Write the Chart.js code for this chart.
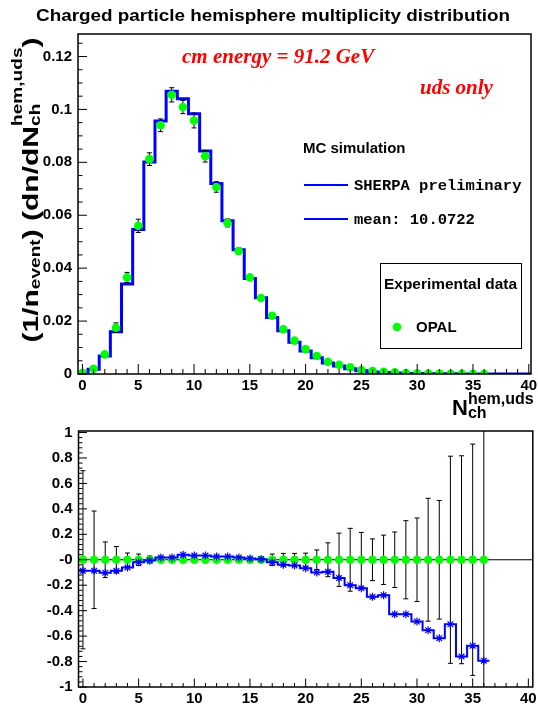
<!DOCTYPE html>
<html>
<head>
<meta charset="utf-8">
<script src="https://cdn.jsdelivr.net/npm/chart.js@4.4.0/dist/chart.umd.min.js"></script>
<style>
  html, body { margin: 0; padding: 0; background: #fff; }
  #wrap { position: relative; width: 538px; height: 709px; }
  #topChart { position: absolute; left: 0; top: 0; }
  #botChart { position: absolute; left: 0; top: 415px; }
</style>
</head>
<body>
<div id="wrap">
  <canvas id="topChart" width="538" height="425"></canvas>
  <canvas id="botChart" width="538" height="294"></canvas>
</div>
<script>
// bins of N_ch (data points 0..36, MC histogram 0..40)
var dataBins = [0,1,2,3,4,5,6,7,8,9,10,11,12,13,14,15,16,17,18,19,20,21,22,23,24,25,26,27,28,29,30,31,32,33,34,35,36];
var mcBins = [0,1,2,3,4,5,6,7,8,9,10,11,12,13,14,15,16,17,18,19,20,21,22,23,24,25,26,27,28,29,30,31,32,33,34,35,36,37,38,39,40];

// OPAL data (1/n dn/dN)
var opalValues = [0.0005,0.002,0.0074,0.0175,0.0365,0.056,0.0812,0.094,0.1055,0.1009,0.0958,0.0823,0.0707,0.0571,0.0465,0.0365,0.0287,0.022,0.0169,0.0126,0.0094,0.0068,0.0046,0.0035,0.0025,0.0015,0.0011,0.0008,0.0006,0.0004,0.0003,0.0002,0.00015,0.0001,0.00007,0.00005,0.00003];
var opalErrors = [0.00035,0.0008,0.001,0.0018,0.0019,0.0025,0.0024,0.0024,0.0027,0.0025,0.0028,0.0022,0.002,0.0015,0.0012,0.001,0.0008,0.001,0.00085,0.0006,0.00047,0.00052,0.0006,0.00073,0.0006,0.0003,0.00018,0.00016,0.00013,0.00012,0.0001,0.0001,0.00007,0.00008,0.00006,0.00005,0.00005];

// SHERPA preliminary histogram
var sherpaValues = [0.0003,0.0018,0.0068,0.016,0.034,0.0546,0.0801,0.0956,0.1069,0.104,0.0984,0.0843,0.072,0.0579,0.047,0.0361,0.0288,0.0214,0.0163,0.012,0.0087,0.0061,0.0042,0.003,0.002,0.0012,0.0008,0.0006,0.00034,0.00023,0.00015,0.00009,0.00006,0.00005,0.00002,0.00002,0.00001,0,0,0,0];

// lower panel: (MC - data) / data and relative data errors
var ratioValues = [-0.087,-0.087,-0.102,-0.087,-0.06,-0.02,-0.005,0.018,0.018,0.04,0.033,0.033,0.025,0.025,0.018,0.01,0.005,-0.02,-0.04,-0.045,-0.067,-0.1,-0.095,-0.144,-0.2,-0.223,-0.29,-0.278,-0.428,-0.428,-0.486,-0.554,-0.617,-0.507,-0.761,-0.675,-0.793];
var relErrors = [0.7,0.383,0.14,0.104,0.053,0.045,0.03,0.022,0.02,0.02,0.02,0.02,0.02,0.02,0.02,0.02,0.022,0.045,0.05,0.05,0.052,0.077,0.133,0.209,0.247,0.215,0.164,0.194,0.218,0.307,0.328,0.483,0.466,0.814,0.817,0.909,1.6];

// tick labels
var xTickValues = [0,5,10,15,20,25,30,35,40];
var xTickLabels = ["0","5","10","15","20","25","30","35","40"];
var yTopTickValues = [0,0.02,0.04,0.06,0.08,0.1,0.12];
var yTopTickLabels = ["0","0.02","0.04","0.06","0.08","0.1","0.12"];
var yBotTickValues = [-1,-0.8,-0.6,-0.4,-0.2,0,0.2,0.4,0.6,0.8,1];
var yBotTickLabels = ["-1","-0.8","-0.6","-0.4","-0.2","-0","0.2","0.4","0.6","0.8","1"];

var SANS = '"Liberation Sans", Arial, Helvetica, sans-serif';
var SERIF = '"Liberation Serif", "Times New Roman", serif';
Chart.defaults.font.family = SANS;
Chart.defaults.color = '#000';

var BLUE = '#0000ff';
var GREEN = '#00ff00';

function richWidth(ctx, parts) {
    var w = 0;
    parts.forEach(function (p) {
        ctx.font = p.f;
        if (p.stack) {
            w += Math.max.apply(null, p.stack.map(function (s) { return ctx.measureText(s.t).width; }));
        } else {
            w += ctx.measureText(p.t).width;
        }
    });
    return w;
}

function drawRich(ctx, parts, x, y) {
    var cx = x;
    parts.forEach(function (p) {
        ctx.font = p.f;
        if (p.stack) {
            var mw = 0;
            p.stack.forEach(function (s) {
                ctx.fillText(s.t, cx, y + s.dy);
                mw = Math.max(mw, ctx.measureText(s.t).width);
            });
            cx += mw;
        } else {
            ctx.fillText(p.t, cx, y + (p.dy || 0));
            cx += ctx.measureText(p.t).width;
        }
    });
}

// text stretched to a given width (root canvas was resized)
function fillStretched(ctx, text, x, y, width) {
    var w = ctx.measureText(text).width;
    ctx.save();
    ctx.translate(x, y);
    ctx.scale(width / w, 1);
    ctx.fillText(text, 0, 0);
    ctx.restore();
}

// error bars through the scales
function drawErrorBars(chart, xs, ys, errs, cap) {
    var ctx = chart.ctx, a = chart.chartArea;
    var sx = chart.scales.x, sy = chart.scales.y;
    ctx.save();
    ctx.beginPath();
    ctx.rect(a.left, a.top, a.right - a.left, a.bottom - a.top);
    ctx.clip();
    ctx.strokeStyle = '#000';
    ctx.lineWidth = 1;
    ctx.beginPath();
    for (var i = 0; i < xs.length; i++) {
        var px = sx.getPixelForValue(xs[i]);
        var p1 = sy.getPixelForValue(ys[i] + errs[i]);
        var p2 = sy.getPixelForValue(ys[i] - errs[i]);
        ctx.moveTo(px, p1); ctx.lineTo(px, p2);
        ctx.moveTo(px - cap, p1); ctx.lineTo(px + cap, p1);
        ctx.moveTo(px - cap, p2); ctx.lineTo(px + cap, p2);
    }
    ctx.stroke();
    ctx.restore();
}

// ROOT like frame with inner ticks
function drawFrame(chart, yMinorStep, yMinorCount, yFrom, yTo, lens) {
    var ctx = chart.ctx, a = chart.chartArea;
    var sx = chart.scales.x, sy = chart.scales.y;
    ctx.save();
    ctx.strokeStyle = '#000';
    ctx.lineWidth = 1;
    ctx.beginPath();
    for (var v = 0; v <= 40; v++) {
        var px = sx.getPixelForValue(v);
        var L = (v % 5 === 0) ? lens.xMajor : lens.xMinor;
        ctx.moveTo(px, a.bottom); ctx.lineTo(px, a.bottom - L);
    }
    for (var k = yFrom; k <= yTo; k++) {
        var val = k * yMinorStep;
        var py = sy.getPixelForValue(val);
        if (py < a.top - 0.5 || py > a.bottom + 0.5) continue;
        var Ly = (k % yMinorCount === 0) ? lens.yMajor : lens.yMinor;
        ctx.moveTo(a.left, py); ctx.lineTo(a.left + Ly, py);
    }
    ctx.stroke();
    ctx.lineWidth = 1.5;
    ctx.strokeRect(a.left, a.top, a.right - a.left, a.bottom - a.top);
    ctx.restore();
}

var topDeco = {
    id: 'topDeco',
    beforeDatasetDraw: function (chart, args) {
        if (args.index !== 0) return;
        drawErrorBars(chart, dataBins, opalValues, opalErrors, 2.5);
    },
    afterDraw: function (chart) {
        var ctx = chart.ctx;
        drawFrame(chart, 0.005, 4, 0, 25, { xMajor: 10, xMinor: 5, yMajor: 9, yMinor: 4.5 });
        ctx.save();
        ctx.fillStyle = '#000';
        ctx.textBaseline = 'alphabetic';
        ctx.textAlign = 'left';
        // title
        ctx.font = 'bold 17px ' + SANS;
        fillStretched(ctx, 'Charged particle hemisphere multiplicity distribution', 36, 21, 474);

        // red labels
        ctx.fillStyle = '#ff0000';
        ctx.font = 'italic bold 21px ' + SERIF;
        ctx.fillText('cm energy = 91.2 GeV', 182, 63);
        ctx.fillText('uds only', 420, 94);

        // MC legend
        ctx.fillStyle = '#000';
        ctx.font = 'bold 15px ' + SANS;
        ctx.fillText('MC simulation', 303, 153);
        ctx.strokeStyle = BLUE;
        ctx.lineWidth = 2;
        ctx.beginPath();
        ctx.moveTo(304, 185); ctx.lineTo(348, 185);
        ctx.moveTo(304, 219); ctx.lineTo(348, 219);
        ctx.stroke();
        ctx.font = 'bold 15.5px "Liberation Mono", "Courier New", monospace';
        ctx.textBaseline = 'middle';
        ctx.fillText('SHERPA preliminary', 354, 186);
        ctx.fillText('mean: 10.0722', 354, 220);

        // data legend box
        ctx.textBaseline = 'alphabetic';
        ctx.fillStyle = '#fff';
        ctx.fillRect(380.5, 263.5, 141, 85);
        ctx.strokeStyle = '#000';
        ctx.lineWidth = 1;
        ctx.strokeRect(380.5, 263.5, 141, 85);
        ctx.fillStyle = '#000';
        ctx.font = 'bold 15px ' + SANS;
        fillStretched(ctx, 'Experimental data', 384, 289, 133);
        ctx.fillStyle = GREEN;
        ctx.beginPath();
        ctx.arc(397, 327, 4.3, 0, Math.PI * 2);
        ctx.fill();
        ctx.fillStyle = '#000';
        ctx.font = 'bold 15px ' + SANS;
        ctx.fillText('OPAL', 416, 332);

        // x axis title
        drawRich(ctx, [
            { t: 'N', f: 'bold 22px ' + SANS },
            { stack: [{ t: 'hem,uds', dy: -11 }, { t: 'ch', dy: 3 }], f: 'bold 16px ' + SANS }
        ], 452, 415);

        // y axis title (rotated)
        var yParts = [
            { t: '(1/n', f: 'bold 22px ' + SANS },
            { t: 'event', f: 'bold 14px ' + SANS, dy: 2 },
            { t: ') (dn/dN', f: 'bold 22px ' + SANS },
            { stack: [{ t: 'hem,uds', dy: -16 }, { t: 'ch', dy: 2 }], f: 'bold 14px ' + SANS },
            { t: ')', f: 'bold 22px ' + SANS }
        ];
        var W = richWidth(ctx, yParts);
        ctx.translate(38, 190);
        ctx.rotate(-Math.PI / 2);
        ctx.scale(305 / W, 1);
        drawRich(ctx, yParts, -W / 2, 0);
        ctx.restore();
    }
};

var botDeco = {
    id: 'botDeco',
    beforeDatasetsDraw: function (chart) {
        var ctx = chart.ctx, a = chart.chartArea;
        var py = chart.scales.y.getPixelForValue(0);
        ctx.save();
        ctx.strokeStyle = '#000';
        ctx.lineWidth = 1;
        ctx.beginPath();
        ctx.moveTo(a.left, py); ctx.lineTo(a.right, py);
        ctx.stroke();
        ctx.restore();
    },
    beforeDatasetDraw: function (chart, args) {
        if (args.index !== 2) return;
        drawErrorBars(chart, dataBins, dataBins.map(function () { return 0; }), relErrors, 2.5);
    },
    afterDraw: function (chart) {
        drawFrame(chart, 0.04, 5, -25, 25, { xMajor: 8.5, xMinor: 4, yMajor: 8.5, yMinor: 4 });
    }
};

function xScale(min, max, h) {
    return {
        type: 'linear', min: min, max: max,
        grid: { display: false, drawTicks: false },
        border: { display: false },
        ticks: {
            autoSkip: false, maxRotation: 0, padding: 3,
            font: { size: 15, weight: 'bold' }, color: '#000',
            callback: function (v, i) { return xTickLabels[i]; }
        },
        afterBuildTicks: function (s) { s.ticks = xTickValues.map(function (v) { return { value: v }; }); },
        afterFit: function (s) { s.height = h; s.paddingLeft = 0; s.paddingRight = 0; }
    };
}

function yScale(min, max, vals, labels, w) {
    return {
        min: min, max: max,
        grid: { display: false, drawTicks: false },
        border: { display: false },
        ticks: {
            autoSkip: false, padding: 6,
            font: { size: 15, weight: 'bold' }, color: '#000',
            callback: function (v, i) { return labels[i]; }
        },
        afterBuildTicks: function (s) { s.ticks = vals.map(function (v) { return { value: v }; }); },
        afterFit: function (s) { s.width = w; s.paddingTop = 0; s.paddingBottom = 0; }
    };
}

new Chart(document.getElementById('topChart').getContext('2d'), {
    type: 'scatter',
    data: {
        datasets: [{
            label: 'OPAL',
            data: dataBins.map(function (n, i) { return { x: n, y: opalValues[i] }; }),
            pointRadius: 4.3,
            pointBackgroundColor: GREEN,
            pointBorderWidth: 0,
            showLine: false
        }, {
            label: 'SHERPA preliminary',
            data: mcBins.map(function (n, i) { return { x: n - 0.5, y: sherpaValues[i] }; })
                .concat([{ x: mcBins[mcBins.length - 1] + 0.5, y: sherpaValues[sherpaValues.length - 1] }]),
            showLine: true,
            stepped: true,
            borderColor: BLUE,
            borderWidth: 3,
            pointRadius: 0
        }]
    },
    options: {
        responsive: false,
        animation: false,
        layout: { padding: { top: 34, right: 7, left: 0, bottom: 0 } },
        plugins: { legend: { display: false }, tooltip: { enabled: false } },
        scales: {
            x: xScale(-0.4, 40.2, 425 - 374),
            y: yScale(0, 0.1285, yTopTickValues, yTopTickLabels, 78)
        }
    },
    plugins: [topDeco]
});

new Chart(document.getElementById('botChart').getContext('2d'), {
    type: 'scatter',
    data: {
        datasets: [{
            label: 'ratio markers',
            data: dataBins.map(function (n, i) { return { x: n, y: ratioValues[i] }; }),
            pointStyle: 'star',
            pointRadius: 4,
            pointBorderColor: BLUE,
            pointBorderWidth: 1.2,
            showLine: false
        }, {
            label: 'ratio',
            data: dataBins.map(function (n, i) { return { x: n - 0.5, y: ratioValues[i] }; })
                .concat([{ x: dataBins[dataBins.length - 1] + 0.5, y: ratioValues[ratioValues.length - 1] }]),
            showLine: true,
            stepped: true,
            borderColor: BLUE,
            borderWidth: 2,
            pointRadius: 0
        }, {
            label: 'data',
            data: dataBins.map(function (n) { return { x: n, y: 0 }; }),
            pointRadius: 4.3,
            pointBackgroundColor: GREEN,
            pointBorderWidth: 0,
            showLine: false
        }]
    },
    options: {
        responsive: false,
        animation: false,
        layout: { padding: { top: 16, right: 3.5, left: 0, bottom: 0 } },
        plugins: { legend: { display: false }, tooltip: { enabled: false } },
        scales: {
            x: xScale(-0.4, 40.4, 294 - 272),
            y: yScale(-1, 1.012, yBotTickValues, yBotTickLabels, 78.5)
        }
    },
    plugins: [botDeco]
});
</script>
</body>
</html>
